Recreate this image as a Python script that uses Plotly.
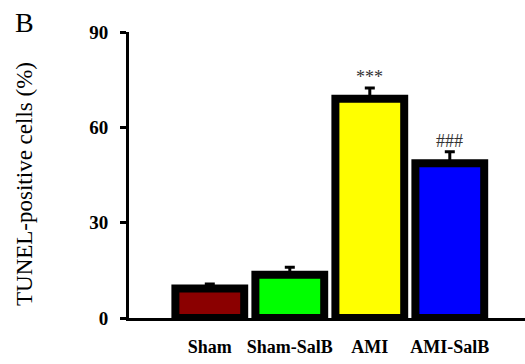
import plotly.graph_objects as go

categories = ["Sham", "Sham-SalB", "AMI", "AMI-SalB"]
values = [9.3, 13.6, 69.0, 48.7]
errors = [1.4, 2.4, 3.4, 3.6]
colors = ["#8B0000", "#00FF00", "#FFFF00", "#0000FF"]
y_ticks = [0, 30, 60, 90]
annotations_text = ["", "", "***", "###"]

fig = go.Figure()
fig.add_trace(go.Bar(
    x=categories, y=values,
    marker=dict(color=colors, line=dict(color="black", width=8)),
    error_y=dict(type="data", array=errors, arrayminus=[0]*len(errors), symmetric=False,
                 color="black", thickness=3, width=5),
    width=0.86,
))

for c, v, e, t in zip(categories, values, errors, annotations_text):
    if t:
        fig.add_annotation(x=c, y=v + e, text=t, showarrow=False, yanchor="bottom", yshift=-1,
                           font=dict(family="Liberation Serif", size=18, color="#333"))

fig.add_annotation(x=0, y=1, xref="paper", yref="paper", xanchor="center", yanchor="middle",
                   text="B", showarrow=False, xshift=24 - 129, yshift=32 - 22,
                   font=dict(family="Liberation Serif", size=28, color="black"))

fig.add_annotation(x=0, y=0.5, xref="paper", yref="paper", xanchor="center", yanchor="middle",
                   text="TUNEL-positive cells (%)", showarrow=False, textangle=-90,
                   xshift=24 - 129, yshift=175 - 184,
                   font=dict(family="Liberation Serif", size=23, color="black"))

fig.update_layout(
    width=525, height=364,
    margin=dict(l=129, r=0, t=32, b=46),
    paper_bgcolor="white", plot_bgcolor="white",
    showlegend=False,
    font=dict(family="Liberation Serif", color="black"),
)
fig.update_xaxes(
    type="category", range=[-1.01, 3.94], automargin=False,
    showline=True, linecolor="black", linewidth=3,
    ticks="", showgrid=False, zeroline=False,
    tickfont=dict(family="Liberation Serif", size=18, color="black", weight="bold"),
    ticklabelstandoff=10,
)
fig.update_yaxes(
    range=[0, 90], tickvals=y_ticks, automargin=False,
    showline=True, linecolor="black", linewidth=3,
    ticks="outside", ticklen=6, tickwidth=3, tickcolor="black",
    showgrid=False, zeroline=False,
    tickfont=dict(family="Liberation Serif", size=19, color="black", weight="bold"),
    ticklabelstandoff=8,
)

fig.write_html("out.html", config={"displayModeBar": False},
               post_script="document.body.style.margin='0';document.body.style.overflow='hidden';")
